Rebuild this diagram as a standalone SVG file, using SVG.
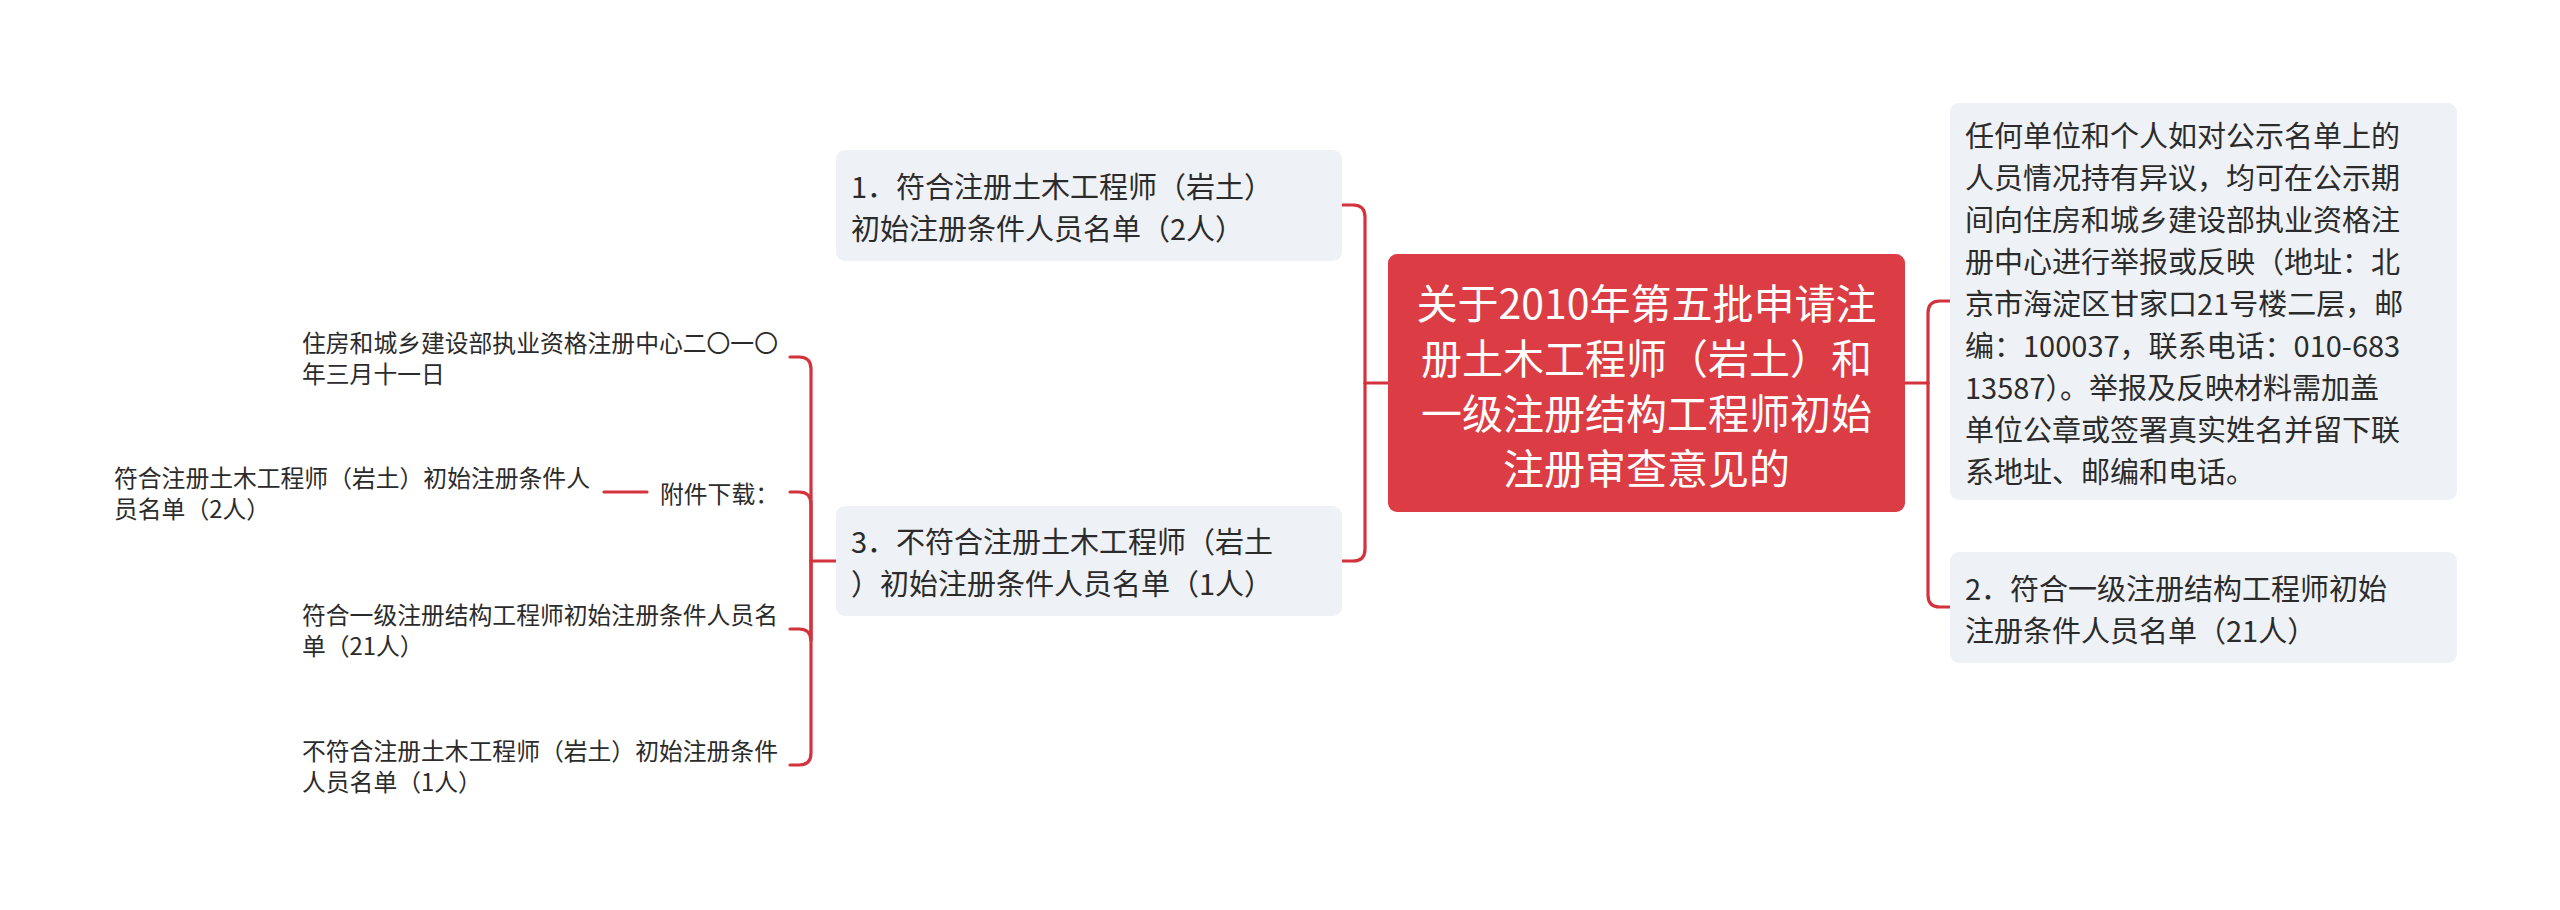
<svg xmlns="http://www.w3.org/2000/svg" width="2560" height="910" viewBox="0 0 2560 910">
<style>
.bg{fill:#ffffff}
.box{fill:#EEF1F5}
.root{fill:#DC3D45}
.t{font-family:"Noto Sans CJK SC","Noto Sans",sans-serif;fill:#2b2b2b;dominant-baseline:central}
.tb{font-size:29px}
.ts{font-size:23.8px}
.tr{font-size:41px;fill:#ffffff;text-anchor:middle}
.c{fill:none;stroke:#D2333D;stroke-width:3.2;stroke-linecap:round}
</style>
<rect class="bg" x="0" y="0" width="2560" height="910"/>
<g id="connectors">
<path class="c" d="M1388,383 H1365"/>
<path class="c" d="M1365,383 V217 Q1365,205 1353,205 H1342"/>
<path class="c" d="M1365,383 V549 Q1365,561 1353,561 H1342"/>
<path class="c" d="M1905,383 H1928"/>
<path class="c" d="M1928,383 V313 Q1928,301 1940,301 H1950"/>
<path class="c" d="M1928,383 V595 Q1928,607 1940,607 H1950"/>
<path class="c" d="M836,561 H811"/>
<path class="c" d="M811,561 V369 Q811,357 799,357 H790"/>
<path class="c" d="M811,561 V504 Q811,492 799,492 H790"/>
<path class="c" d="M811,561 V641 Q811,629 799,629 H790"/>
<path class="c" d="M811,561 V753 Q811,765 799,765 H790"/>
<path class="c" d="M647,492 H604"/>
</g>
<g id="root">
<rect class="root" x="1388" y="254" width="517" height="258" rx="9"/>
<text class="t tr" x="1646.5" y="300.5">关于2010年第五批申请注</text>
<text class="t tr" x="1646.5" y="355.5">册土木工程师（岩土）和</text>
<text class="t tr" x="1646.5" y="410.5">一级注册结构工程师初始</text>
<text class="t tr" x="1646.5" y="465.5">注册审查意见的</text>
</g>
<g id="n1">
<rect class="box" x="836" y="150" width="506" height="111" rx="9"/>
<text class="t tb" x="851" y="184.5">1．符合注册土木工程师（岩土）</text>
<text class="t tb" x="851" y="226.5">初始注册条件人员名单（2人）</text>
</g>
<g id="n3">
<rect class="box" x="836" y="506" width="506" height="110" rx="9"/>
<text class="t tb" x="851" y="540">3．不符合注册土木工程师（岩土</text>
<text class="t tb" x="851" y="582">）初始注册条件人员名单（1人）</text>
</g>
<g id="n-notice">
<rect class="box" x="1950" y="103" width="507" height="397" rx="9"/>
<text class="t tb" x="1965" y="133.5">任何单位和个人如对公示名单上的</text>
<text class="t tb" x="1965" y="175.5">人员情况持有异议，均可在公示期</text>
<text class="t tb" x="1965" y="217.5">间向住房和城乡建设部执业资格注</text>
<text class="t tb" x="1965" y="259.5">册中心进行举报或反映（地址：北</text>
<text class="t tb" x="1965" y="301.5">京市海淀区甘家口21号楼二层，邮</text>
<text class="t tb" x="1965" y="343.5">编：100037，联系电话：010-683</text>
<text class="t tb" x="1965" y="385.5">13587）。举报及反映材料需加盖</text>
<text class="t tb" x="1965" y="427.5">单位公章或签署真实姓名并留下联</text>
<text class="t tb" x="1965" y="469.5">系地址、邮编和电话。</text>
</g>
<g id="n2">
<rect class="box" x="1950" y="552" width="507" height="111" rx="9"/>
<text class="t tb" x="1965" y="586.5">2．符合一级注册结构工程师初始</text>
<text class="t tb" x="1965" y="628.5">注册条件人员名单（21人）</text>
</g>
<g id="l-date">
<text class="t ts" x="302" y="341.5">住房和城乡建设部执业资格注册中心二〇一〇</text>
<text class="t ts" x="302" y="372.5">年三月十一日</text>
</g>
<g id="l-attach">
<text class="t ts" x="660" y="492">附件下载：</text>
</g>
<g id="l-attach-item">
<text class="t ts" x="114" y="476.5">符合注册土木工程师（岩土）初始注册条件人</text>
<text class="t ts" x="114" y="507.5">员名单（2人）</text>
</g>
<g id="l-struct">
<text class="t ts" x="302" y="613.5">符合一级注册结构工程师初始注册条件人员名</text>
<text class="t ts" x="302" y="644.5">单（21人）</text>
</g>
<g id="l-not">
<text class="t ts" x="302" y="749.5">不符合注册土木工程师（岩土）初始注册条件</text>
<text class="t ts" x="302" y="780.5">人员名单（1人）</text>
</g>
</svg>
